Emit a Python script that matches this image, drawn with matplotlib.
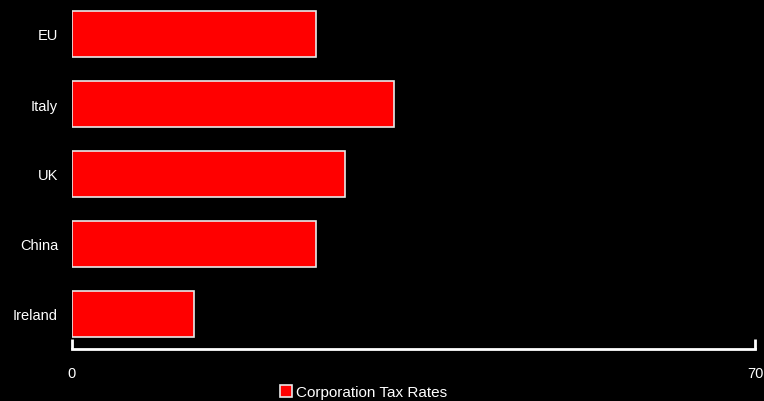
import matplotlib.pyplot as plt
import numpy as np

plt.rcParams['font.family'] = ['Liberation Sans', 'DejaVu Sans']

countries = ["EU", "Italy", "UK", "China", "Ireland"]
rates = [25, 33, 28, 25, 12.5]
series_name = "Corporation Tax Rates"

fig = plt.figure(figsize=(7.64, 4.02), dpi=100, facecolor="black")
ax = fig.add_axes([72 / 764, 52 / 402, 683 / 764, 350 / 402])
ax.set_facecolor("black")

y = np.arange(len(countries))[::-1]
ax.barh(y, rates, height=0.67, color="#ff0000", edgecolor="#e8e8e8",
        linewidth=1.2, label=series_name)

ax.set_xlim(0, 70)
ax.set_ylim(-0.5, len(countries) - 0.5)
ax.set_xticks([0, 70])
ax.set_yticks(y)
ax.set_yticklabels(countries)

for s in ["top", "right", "left"]:
    ax.spines[s].set_visible(False)
ax.spines["bottom"].set_color("white")
ax.spines["bottom"].set_linewidth(2)

ax.tick_params(axis="x", direction="in", length=7, width=2, colors="white",
               labelsize=10.5, pad=12)
ax.tick_params(axis="y", length=0, colors="white", labelsize=10.5, pad=10)

leg = fig.legend(loc="lower center", bbox_to_anchor=(0.476, -0.03), frameon=False,
                 fontsize=11, handlelength=0.75, handleheight=0.75,
                 handletextpad=0.3)
for t in leg.get_texts():
    t.set_color("white")

fig.savefig("out.png", dpi=100, facecolor="black")
